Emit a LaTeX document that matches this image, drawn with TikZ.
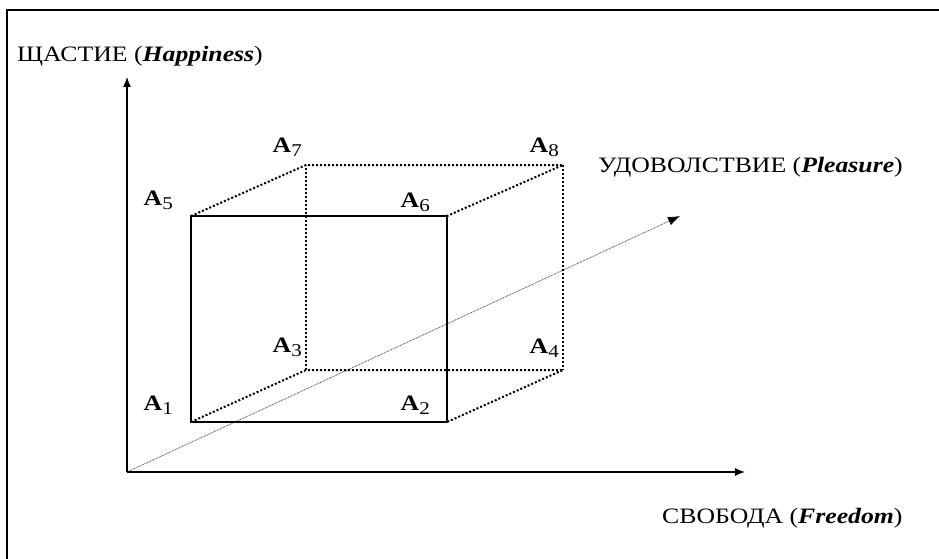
\documentclass[tikz,border=0pt]{standalone}
\usepackage{fontspec}
\setmainfont{Liberation Serif}[FakeStretch=1.17]
\usetikzlibrary{arrows.meta,positioning}

\newcommand{\cornersub}[1]{\raisebox{-4pt}{\fontsize{18}{18}\selectfont\mdseries #1}}

\tikzset{
  axis/.style={line width=1.2pt, -{Latex[length=10pt,width=8pt]}},
  faceedge/.style={line width=2.4pt},
  hiddenedge/.style={line width=2pt, dash pattern=on 2pt off 2pt},
  pleasureaxis/.style={line width=0.8pt, gray!55!black, dash pattern=on 0.8pt off 0.8pt, -{Latex[length=12pt,width=9pt,black]}},
  corner/.style={font=\fontsize{22}{24}\selectfont\bfseries, inner sep=0pt, anchor=base east},
  axislabel/.style={font=\fontsize{22}{24}\selectfont, inner sep=0pt, anchor=base west}
}

\begin{document}
\begin{tikzpicture}[x=1pt,y=-1pt]
\useasboundingbox (0,0) rectangle (939,559);
\draw[line width=1.4pt] (939,10) -- (7,10) -- (7,559);

% axes
\coordinate (O) at (127,472);
\coordinate (ytip) at (127,77);
\coordinate (xtip) at (745,472);
\coordinate (ztip) at (680,216);

% cube corners
\coordinate (c1) at (191,422);
\coordinate (c2) at (447,422);
\coordinate (c3) at (306,370);
\coordinate (c4) at (563,370);
\coordinate (c5) at (191,216);
\coordinate (c6) at (447,216);
\coordinate (c7) at (306,165);
\coordinate (c8) at (563,165);

\draw[pleasureaxis] (O) -- (ztip);
\draw[axis] (O) -- (ytip);
\draw[axis] (O) -- (xtip);

\draw[hiddenedge] (c1) -- (c3) -- (c4) -- (c2);
\draw[hiddenedge] (c3) -- (c7);
\draw[hiddenedge] (c5) -- (c7) -- (c8) -- (c6);
\draw[hiddenedge] (c8) -- (c4);
\draw[faceedge] (c1) -- (c2) -- (c6) -- (c5) -- cycle;

\node[corner] (a1) at ([shift={(-18,-12)}]c1) {A\cornersub{1}};
\node[corner] (a2) at ([shift={(-17,-12)}]c2) {A\cornersub{2}};
\node[corner] (a3) at ([shift={(-4,-18)}]c3) {A\cornersub{3}};
\node[corner] (a4) at ([shift={(-4,-17)}]c4) {A\cornersub{4}};
\node[corner] (a5) at ([shift={(-18,-11)}]c5) {A\cornersub{5}};
\node[corner] (a6) at ([shift={(-17,-9)}]c6) {A\cornersub{6}};
\node[corner] (a7) at ([shift={(-4,-13)}]c7) {A\cornersub{7}};
\node[corner] (a8) at ([shift={(-4,-13)}]c8) {A\cornersub{8}};

\node[axislabel] (happy) at (17,62) {ЩАСТИЕ (\textbf{\textit{Happiness}})};
\node[axislabel] (pleas) at (598,172) {УДОВОЛСТВИЕ (\textbf{\textit{Pleasure}})};
\node[axislabel] (free) at (662,523) {СВОБОДА (\textbf{\textit{Freedom}})};
\end{tikzpicture}
\end{document}
